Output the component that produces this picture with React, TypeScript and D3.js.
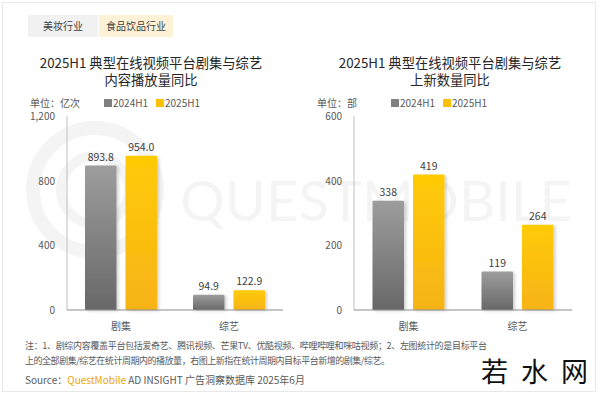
import React from 'react';
import * as d3 from 'd3';

const categories = ['剧集', '综艺'];
const seriesNames = ['2024H1', '2025H1'];
const playValues = [[893.8, 94.9], [954.0, 122.9]];
const newValues = [[338, 119], [419, 264]];
const playTicks = [0, 400, 800, 1200];
const newTicks = [0, 200, 400, 600];

const FONT = '"Noto Sans CJK SC", "Noto Sans", sans-serif';
const LABEL = '#595959';

const gradIds = ['grad-gray', 'grad-yellow'];

const Panel = ({ x0, x1, yMax, ticks, values, fmt, title, titleX, unit, unitX }) => {
    const x = d3.scaleBand().domain(categories).range([x0, x1]);
    const inner = d3.scaleBand().domain(seriesNames).range([-36, 36]).paddingInner(0.222);
    const y = d3.scaleLinear().domain([0, yMax]).range([310, 116]);
    const legendX = x0 + 37;

    return (
        <g>
            <text x={titleX} y={68} textAnchor="middle" fontSize={13.3} fill="#262626">{title[0]}</text>
            <text x={titleX} y={85} textAnchor="middle" fontSize={13.3} fill="#262626">{title[1]}</text>

            <text x={unitX} y={107} fontSize={10} fill={LABEL}>{unit}</text>
            {seriesNames.map((s, i) => (
                <g key={s} transform={`translate(${legendX + i * 52},0)`}>
                    <rect x={0} y={99} width={8} height={8} fill={i === 0 ? '#7f7f7f' : '#ffc000'} />
                    <text x={9} y={107} fontSize={10} fill={LABEL}>{s}</text>
                </g>
            ))}

            {ticks.map(t => (
                <text key={t} x={x0 - 12} y={y(t) + 4} textAnchor="end" fontSize={10} fill={LABEL}>
                    {d3.format(',')(t)}
                </text>
            ))}
            <line x1={x0} x2={x0} y1={y(yMax)} y2={y(0)} stroke="#bfbfbf" />

            {categories.map((c, ci) => (
                <g key={c}>
                    {seriesNames.map((s, si) => {
                        const v = values[si][ci];
                        const bx = x(c) + x.bandwidth() / 2 + inner(s);
                        return (
                            <g key={s}>
                                <rect x={bx} y={y(v)} width={inner.bandwidth()} height={y(0) - y(v)}
                                    fill={`url(#${gradIds[si]})`} filter="url(#shadow)" rx={1} />
                                <text x={bx + inner.bandwidth() / 2} y={y(v) - 5} textAnchor="middle"
                                    fontSize={10.5} fill="#404040">{fmt(v)}</text>
                            </g>
                        );
                    })}
                    <text x={x(c) + x.bandwidth() / 2} y={330} textAnchor="middle" fontSize={10} fill={LABEL}>{c}</text>
                </g>
            ))}
            <line x1={x0} x2={x1} y1={y(0)} y2={y(0)} stroke="#8c8c8c" />
        </g>
    );
};

const App = () => {
    return (
        <svg width={600} height={394} style={{ position: 'fixed', top: 0, left: 0, background: '#fff' }}
            fontFamily={FONT}>
            <defs>
                <linearGradient id="grad-gray" x1="0" y1="0" x2="0" y2="1">
                    <stop offset="0" stopColor="#9d9d9d" />
                    <stop offset="1" stopColor="#686868" />
                </linearGradient>
                <linearGradient id="grad-yellow" x1="0" y1="0" x2="0" y2="1">
                    <stop offset="0" stopColor="#ffcb05" />
                    <stop offset="1" stopColor="#f7b318" />
                </linearGradient>
                <filter id="shadow" x="-20%" y="-10%" width="150%" height="130%">
                    <feDropShadow dx={2} dy={1} stdDeviation={1.5} floodColor="#000" floodOpacity={0.18} />
                </filter>
            </defs>

            <rect x={2.5} y={2.5} width={593} height={389} fill="#fff" stroke="#e8e8e8" />

            {/* faint watermark */}
            <g opacity={0.04}>
                <circle cx={95} cy={190} r={62} fill="none" stroke="#000" strokeWidth={14} />
                <circle cx={95} cy={190} r={34} fill="none" stroke="#000" strokeWidth={10} />
                <text x={180} y={221} fontSize={56} fontFamily="Lato, sans-serif" fill="#000"
                    textLength={392} lengthAdjust="spacingAndGlyphs">QUESTMOBILE</text>
            </g>

            <rect x={28} y={15} width={70} height={22} fill="#f1f1f1" />
            <text x={63} y={30} textAnchor="middle" fontSize={10} fill="#404040">美妆行业</text>
            <rect x={99} y={15} width={74} height={22} fill="#fdf2d6" />
            <text x={136} y={30} textAnchor="middle" fontSize={10} fill="#404040">食品饮品行业</text>

            <Panel x0={67} x1={283} yMax={1200} ticks={playTicks} values={playValues}
                fmt={d3.format('.1f')} title={['2025H1 典型在线视频平台剧集与综艺', '内容播放量同比']}
                titleX={151} unit="单位：亿次" unitX={30} />
            <Panel x0={354} x1={572} yMax={600} ticks={newTicks} values={newValues}
                fmt={d3.format('d')} title={['2025H1 典型在线视频平台剧集与综艺', '上新数量同比']}
                titleX={450} unit="单位：部" unitX={317} />

            <text x={25} y={349} fontSize={9} fill="#595959" textLength={462} lengthAdjust="spacing">
                注：1、剧综内容覆盖平台包括爱奇艺、腾讯视频、芒果TV、优酷视频、哔哩哔哩和咪咕视频；2、左图统计的是目标平台
            </text>
            <text x={25} y={364} fontSize={9} fill="#595959" textLength={365} lengthAdjust="spacing">
                上的全部剧集/综艺在统计周期内的播放量，右图上新指在统计周期内目标平台新增的剧集/综艺。
            </text>
            <text x={25} y={384} fontSize={10} fill="#595959">
                Source：<tspan fill="#f0a500">QuestMobile</tspan> AD INSIGHT 广告洞察数据库 2025年6月
            </text>

            <rect x={474} y={352} width={121} height={39} fill="#fff" />
            <text x={481} y={382} fontSize={27} fill="#111" letterSpacing={13}>若水网</text>
        </svg>
    );
};

export default App;
